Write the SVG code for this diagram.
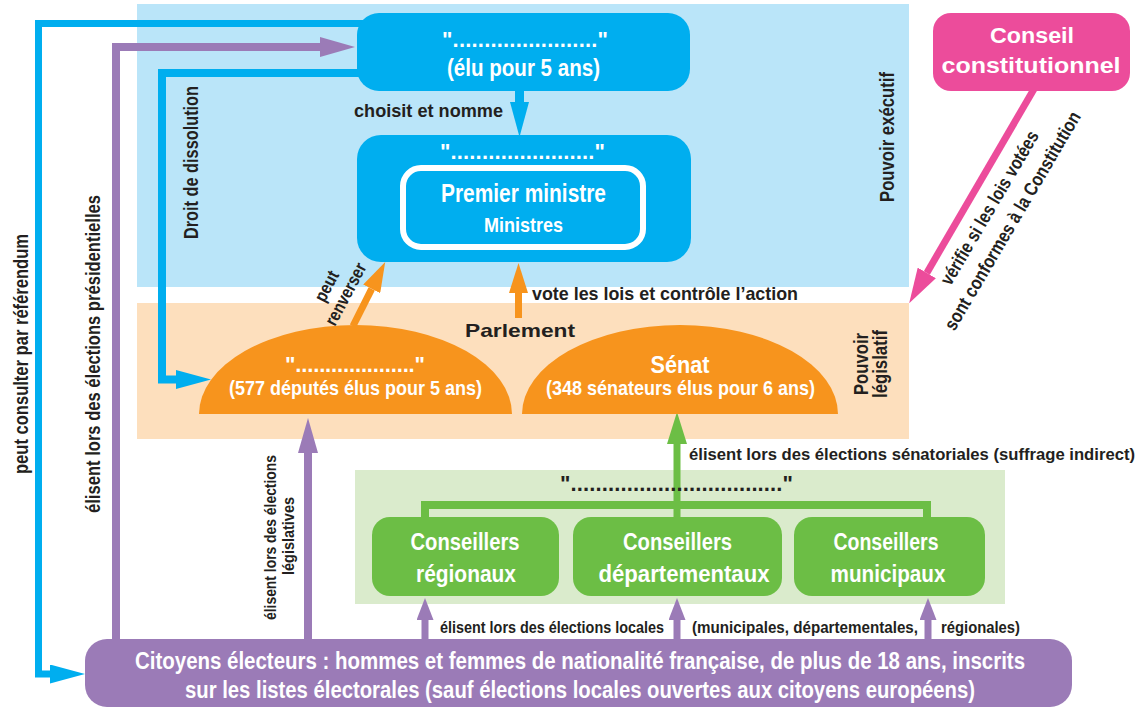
<svg xmlns="http://www.w3.org/2000/svg" width="1147" height="708" viewBox="0 0 1147 708">
<style>
.t{font-family:"Liberation Sans Narrow","Liberation Sans",Arial,sans-serif;font-weight:bold}
.b{font-family:"Liberation Sans",Arial,sans-serif;font-weight:bold}
.w{fill:#ffffff}
.d{fill:#231F20}
.c{text-anchor:middle}
.ln{fill:none;stroke-linejoin:miter;stroke-linecap:butt}
</style>
<defs>
<marker id="ah-blue" markerUnits="userSpaceOnUse" markerWidth="35" markerHeight="19" viewBox="0 0 35 19" refX="0" refY="9.5" orient="auto"><path d="M0,0 L35,9.5 L0,19z" fill="#00AEEF"/></marker>
<marker id="ah-purple" markerUnits="userSpaceOnUse" markerWidth="35" markerHeight="20" viewBox="0 0 35 20" refX="0" refY="10" orient="auto"><path d="M0,0 L35,10 L0,20z" fill="#9B7BB7"/></marker>
<marker id="ah-purple-s" markerUnits="userSpaceOnUse" markerWidth="22" markerHeight="17" viewBox="0 0 22 17" refX="0" refY="8.5" orient="auto"><path d="M0,0 L22,8.5 L0,17z" fill="#9B7BB7"/></marker>
<marker id="ah-orange" markerUnits="userSpaceOnUse" markerWidth="30" markerHeight="19" viewBox="0 0 30 19" refX="0" refY="9.5" orient="auto"><path d="M0,0 L30,9.5 L0,19z" fill="#F7941D"/></marker>
<marker id="ah-green" markerUnits="userSpaceOnUse" markerWidth="32" markerHeight="20" viewBox="0 0 32 20" refX="0" refY="10" orient="auto"><path d="M0,0 L32,10 L0,20z" fill="#6CBE45"/></marker>
<marker id="ah-pink" markerUnits="userSpaceOnUse" markerWidth="35" markerHeight="21" viewBox="0 0 35 21" refX="0" refY="10.5" orient="auto"><path d="M0,0 L35,10.5 L0,21z" fill="#EC4C9B"/></marker>
</defs>

<g id="zone-executif">
<rect x="137" y="4" width="772" height="283" fill="#BAE5F9"/>
<text class="t d c" font-size="20" transform="translate(894,137) rotate(-90)" textLength="130" lengthAdjust="spacingAndGlyphs">Pouvoir exécutif</text>
</g>
<g id="zone-legislatif">
<rect x="137" y="303" width="772" height="136" fill="#FDDFBD"/>
<text class="t d c" font-size="20" transform="translate(868,364) rotate(-90)" textLength="62" lengthAdjust="spacingAndGlyphs">Pouvoir</text>
<text class="t d c" font-size="20" transform="translate(887,364) rotate(-90)" textLength="68" lengthAdjust="spacingAndGlyphs">législatif</text>
<text class="b d" font-size="19" x="465" y="337" textLength="110" lengthAdjust="spacingAndGlyphs">Parlement</text>
</g>
<g id="zone-collectivites">
<rect x="355" y="470" width="650" height="134" fill="#DAEBCC"/>
</g>

<g id="connectors">
<path class="ln" d="M365,23.5 H38.5 V674 H50" stroke="#00AEEF" stroke-width="7" marker-end="url(#ah-blue)"/>
<path class="ln" d="M116,641 V47 H320" stroke="#9B7BB7" stroke-width="8" marker-end="url(#ah-purple)"/>
<path class="ln" d="M370,73 H162 V379.5 H176" stroke="#00AEEF" stroke-width="8" marker-end="url(#ah-blue)"/>
<path class="ln" d="M519.5,89 V102" stroke="#00AEEF" stroke-width="9" marker-end="url(#ah-blue)"/>
<path class="ln" d="M518.5,318 V293" stroke="#F7941D" stroke-width="7" marker-end="url(#ah-orange)"/>
<path class="ln" d="M353,326 L371.7,288.9" stroke="#F7941D" stroke-width="7" marker-end="url(#ah-orange)"/>
<path class="ln" d="M1034,89 L926.8,272.9" stroke="#EC4C9B" stroke-width="7" marker-end="url(#ah-pink)"/>
<path class="ln" d="M308,641 V453" stroke="#9B7BB7" stroke-width="8" marker-end="url(#ah-purple)"/>
<path class="ln" d="M677,519 V444" stroke="#6CBE45" stroke-width="7" marker-end="url(#ah-green)"/>
<path class="ln" d="M425,519 V505 H927 V519" stroke="#6CBE45" stroke-width="8"/>
<path class="ln" d="M425,641 V620" stroke="#9B7BB7" stroke-width="7" marker-end="url(#ah-purple-s)"/>
<path class="ln" d="M677,641 V620" stroke="#9B7BB7" stroke-width="7" marker-end="url(#ah-purple-s)"/>
<path class="ln" d="M928,641 V620" stroke="#9B7BB7" stroke-width="7" marker-end="url(#ah-purple-s)"/>
<text class="t d" font-size="21" transform="translate(28,354) rotate(-90)" text-anchor="middle" textLength="240" lengthAdjust="spacingAndGlyphs">peut consulter par référendum</text>
<text class="t d" font-size="20" transform="translate(100,354) rotate(-90)" text-anchor="middle" textLength="318" lengthAdjust="spacingAndGlyphs">élisent lors des élections présidentielles</text>
<text class="t d" font-size="20" transform="translate(198,162.5) rotate(-90)" text-anchor="middle" textLength="153" lengthAdjust="spacingAndGlyphs">Droit de dissolution</text>
<text class="t d" font-size="19" x="354" y="117" textLength="149" lengthAdjust="spacingAndGlyphs">choisit et nomme</text>
<text class="t d" font-size="19" x="532" y="300" textLength="266" lengthAdjust="spacingAndGlyphs">vote les lois et contrôle l’action</text>
<text class="t d" font-size="18" transform="translate(332,289) rotate(-62)" text-anchor="middle" textLength="32" lengthAdjust="spacingAndGlyphs">peut</text>
<text class="t d" font-size="18" transform="translate(351,297) rotate(-62)" text-anchor="middle" textLength="68" lengthAdjust="spacingAndGlyphs">renverser</text>
<text class="t d" font-size="19" transform="translate(995,211) rotate(-59.5)" text-anchor="middle" textLength="175" lengthAdjust="spacingAndGlyphs">vérifie si les lois votées</text>
<text class="t d" font-size="19" transform="translate(1018,224) rotate(-59.5)" text-anchor="middle" textLength="250" lengthAdjust="spacingAndGlyphs">sont conformes à la Constitution</text>
<text class="t d" font-size="16" transform="translate(276,537.5) rotate(-90)" text-anchor="middle" textLength="165" lengthAdjust="spacingAndGlyphs">élisent lors des élections</text>
<text class="t d" font-size="16" transform="translate(294,536) rotate(-90)" text-anchor="middle" textLength="78" lengthAdjust="spacingAndGlyphs">législatives</text>
<text class="t d" font-size="16.8" x="689" y="460" textLength="446" lengthAdjust="spacingAndGlyphs">élisent lors des élections sénatoriales (suffrage indirect)</text>
<text class="t d" font-size="17" x="440" y="633" textLength="224" lengthAdjust="spacingAndGlyphs">élisent lors des élections locales</text>
<text class="t d" font-size="17" x="692" y="633" textLength="226" lengthAdjust="spacingAndGlyphs">(municipales, départementales,</text>
<text class="t d" font-size="17" x="941" y="633" textLength="79" lengthAdjust="spacingAndGlyphs">régionales)</text>
</g>

<g id="label-collectivites">
<text class="t d" font-size="22" x="560" y="491" textLength="233" lengthAdjust="spacing">".................................."</text>
</g>

<g id="node-president">
<rect x="357" y="13" width="333" height="78" rx="22" fill="#00AEEF"/>
<text class="t w c" font-size="22" x="525" y="47" textLength="166" lengthAdjust="spacing">"......................."</text>
<text class="t w c" font-size="23" x="523.5" y="76" textLength="153" lengthAdjust="spacingAndGlyphs">(élu pour 5 ans)</text>
</g>
<g id="node-gouvernement">
<rect x="357" y="135" width="334" height="127" rx="24" fill="#00AEEF"/>
<text class="t w c" font-size="22" x="522.5" y="159" textLength="165" lengthAdjust="spacing">"......................."</text>
<rect x="403" y="168" width="240" height="79" rx="18" fill="#00AEEF" stroke="#ffffff" stroke-width="6"/>
<text class="t w c" font-size="25" x="523.5" y="202" textLength="165" lengthAdjust="spacingAndGlyphs">Premier ministre</text>
<text class="t w c" font-size="21" x="523.5" y="232" textLength="79" lengthAdjust="spacingAndGlyphs">Ministres</text>
</g>
<g id="node-conseil-constitutionnel">
<rect x="933" y="13" width="197" height="78" rx="18" fill="#EC4C9B"/>
<text class="b w c" font-size="22" x="1032" y="43" textLength="84" lengthAdjust="spacingAndGlyphs">Conseil</text>
<text class="b w c" font-size="22" x="1031" y="73" textLength="179" lengthAdjust="spacingAndGlyphs">constitutionnel</text>
</g>
<g id="node-assemblee">
<path d="M199,414 A156.5,89 0 0 1 512,414 Z" fill="#F7941D"/>
<text class="t w c" font-size="22" x="355" y="372" textLength="140" lengthAdjust="spacing">"...................."</text>
<text class="t w c" font-size="21" x="355.5" y="395" textLength="253" lengthAdjust="spacingAndGlyphs">(577 députés élus pour 5 ans)</text>
</g>
<g id="node-senat">
<path d="M522,414 A158,89 0 0 1 838,414 Z" fill="#F7941D"/>
<text class="t w c" font-size="23" x="680" y="373" textLength="59" lengthAdjust="spacingAndGlyphs">Sénat</text>
<text class="t w c" font-size="21" x="680.5" y="395" textLength="269" lengthAdjust="spacingAndGlyphs">(348 sénateurs élus pour 6 ans)</text>
</g>
<g id="node-regionaux">
<rect x="372" y="517" width="187" height="79" rx="18" fill="#6CBE45"/>
<text class="t w c" font-size="23" x="465" y="550" textLength="109" lengthAdjust="spacingAndGlyphs">Conseillers</text>
<text class="t w c" font-size="23" x="466" y="582" textLength="100" lengthAdjust="spacingAndGlyphs">régionaux</text>
</g>
<g id="node-departementaux">
<rect x="573" y="517" width="209" height="79" rx="18" fill="#6CBE45"/>
<text class="t w c" font-size="23" x="677.5" y="550" textLength="109" lengthAdjust="spacingAndGlyphs">Conseillers</text>
<text class="t w c" font-size="23" x="684" y="582" textLength="171" lengthAdjust="spacingAndGlyphs">départementaux</text>
</g>
<g id="node-municipaux">
<rect x="794" y="517" width="191" height="79" rx="18" fill="#6CBE45"/>
<text class="t w c" font-size="23" x="886" y="550" textLength="105" lengthAdjust="spacingAndGlyphs">Conseillers</text>
<text class="t w c" font-size="23" x="888" y="582" textLength="115" lengthAdjust="spacingAndGlyphs">municipaux</text>
</g>
<g id="node-citoyens">
<rect x="85" y="639" width="987" height="68" rx="22" fill="#9B7BB7"/>
<text class="t w c" font-size="23" x="580" y="669" textLength="890" lengthAdjust="spacingAndGlyphs">Citoyens électeurs : hommes et femmes de nationalité française, de plus de 18 ans, inscrits</text>
<text class="t w c" font-size="23" x="580" y="698" textLength="790" lengthAdjust="spacingAndGlyphs">sur les listes électorales (sauf élections locales ouvertes aux citoyens européens)</text>
</g>
</svg>
